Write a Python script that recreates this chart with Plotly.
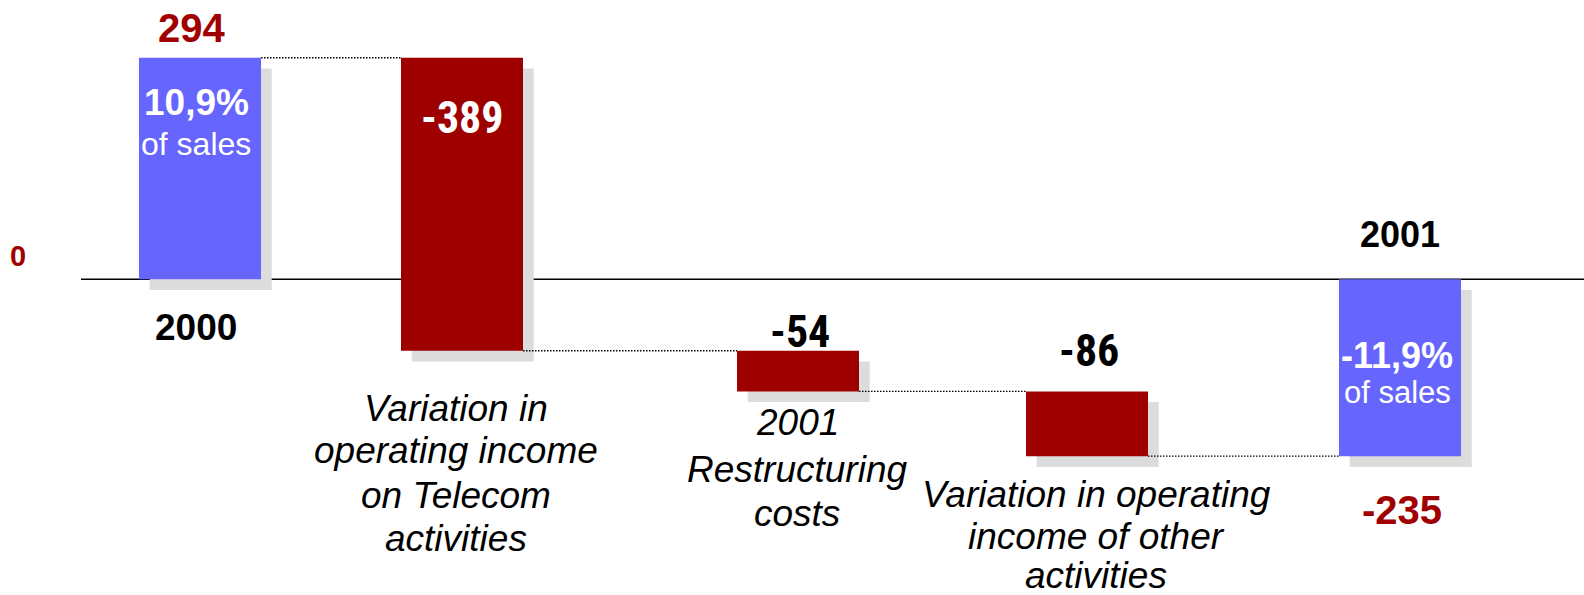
import plotly.graph_objects as go

# ---- data -------------------------------------------------------------
steps = ["2000",
         "Variation in operating income on Telecom activities",
         "2001 Restructuring costs",
         "Variation in operating income of other activities",
         "2001"]
values = [294, -389, -54, -86, -235]
kinds = ["total", "delta", "delta", "delta", "total"]
pct_of_sales = ["10,9%", None, None, None, "-11,9%"]
step_lines = [
    None,
    ["Variation in", "operating income", "on Telecom", "activities"],
    ["2001", "Restructuring", "costs"],
    ["Variation in operating", "income of other", "activities"],
    None,
]

# ---- layout constants -------------------------------------------------
W, H = 1584, 595
slot_x = [2.00, 4.62, 7.98, 10.87, 14.00]     # bar centres (x units = 100 px)
bar_w = 1.22
y_range = [-419.3, 370.7]
px_per_unit = H / (y_range[1] - y_range[0])
shadow_dx = 0.107
shadow_dy = 10.7 / px_per_unit

BLUE = "#6666FF"
RED = "#9E0000"
LABEL_RED = "#A00000"
SHADOW = "#DCDCDC"
SANS = "Liberation Sans, Arial, sans-serif"
NARROW = ("Noto Sans ExtraCondensed, Noto Sans Condensed, Roboto Condensed, "
          "Open Sans Condensed, Liberation Sans Narrow, DejaVu Sans Condensed, sans-serif")

# ---- waterfall geometry from the values --------------------------------
bases, levels = [], []
running = 0
for v, k in zip(values, kinds):
    if k == "total":
        bases.append(0)
        running = v
    else:
        bases.append(running)
        running += v
    levels.append(running)
tops = [max(b, b + v) for b, v in zip(bases, values)]
bottoms = [min(b, b + v) for b, v in zip(bases, values)]
colors = [BLUE if k == "total" else RED for k in kinds]

fig = go.Figure()

# drop shadows
fig.add_trace(go.Bar(
    x=[x + shadow_dx for x in slot_x], y=values,
    base=[b - shadow_dy for b in bases], width=bar_w,
    marker=dict(color=SHADOW, line=dict(width=0)),
    hoverinfo="skip", showlegend=False))

# bars
fig.add_trace(go.Bar(
    x=slot_x, y=values, base=bases, width=bar_w,
    marker=dict(color=colors, line=dict(width=0)),
    customdata=steps, hovertemplate="%{customdata}: %{y}<extra></extra>",
    showlegend=False))

# dotted connectors between consecutive bars
for i in range(len(values) - 1):
    fig.add_trace(go.Scatter(
        x=[slot_x[i] + bar_w / 2, slot_x[i + 1] - bar_w / 2],
        y=[levels[i], levels[i]], mode="lines",
        line=dict(color="black", width=1.3, dash="1.5px,1.5px"),
        hoverinfo="skip", showlegend=False))

# zero line
fig.add_shape(type="line", xref="x", yref="y", x0=0.81, x1=W / 100, y0=0, y1=0,
              line=dict(color="black", width=1.5), layer="below")

ann = []


def label(text, x, y, size, color, family=SANS, bold=False, italic=False,
          xshift=0, yshift=0, xref="x"):
    t = f"<b>{text}</b>" if bold else text
    if italic:
        t = f"<i>{t}</i>"
    ann.append(dict(text=t, x=x, y=y, xref=xref, yref="y", xanchor="center",
                    yanchor="middle", xshift=xshift, yshift=yshift,
                    showarrow=False, font=dict(family=family, size=size, color=color)))


# first total: 2000
label(str(values[0]), slot_x[0], tops[0], 40, LABEL_RED, bold=True, xshift=-9, yshift=30)
label(pct_of_sales[0], slot_x[0], tops[0], 37, "white", bold=True, xshift=-4, yshift=-45)
label("of sales", slot_x[0], tops[0], 32, "white", xshift=-4, yshift=-86)
label(steps[0], slot_x[0], 0, 37, "black", bold=True, xshift=-4, yshift=-48)

# deltas
label(str(values[1]), slot_x[1], tops[1], 44, "white", family=NARROW, bold=True, yshift=-60)
label(str(values[2]), slot_x[2], tops[2], 44, "black", family=NARROW, bold=True, xshift=2, yshift=19)
label(str(values[3]), slot_x[3], tops[3], 44, "black", family=NARROW, bold=True, xshift=2, yshift=40)

# last total: 2001
label(steps[4], slot_x[4], 0, 36, "black", bold=True, yshift=45)
label(pct_of_sales[4], slot_x[4], 0, 36, "white", bold=True, xshift=-3, yshift=-76)
label("of sales", slot_x[4], 0, 31, "white", xshift=-3, yshift=-113)
label(str(values[4]), slot_x[4], bottoms[4], 40, LABEL_RED, bold=True, xshift=2, yshift=-54)

# zero tick
label("0", 0.18, 0, 29, LABEL_RED, bold=True, yshift=23)

# step captions below the change bars (cap-centre pixel rows)
caption_rows = {1: [408, 450, 495, 538], 2: [422, 469, 513], 3: [494, 536, 575]}
caption_dx = {1: -6.5, 2: -1, 3: 9}
for i, rows in caption_rows.items():
    for line, py in zip(step_lines[i], rows):
        ann.append(dict(text=f"<i>{line}</i>", x=slot_x[i], xshift=caption_dx[i],
                        y=1 - py / H, xref="x", yref="paper", xanchor="center",
                        yanchor="middle", showarrow=False,
                        font=dict(family=SANS, size=37, color="black")))

fig.update_layout(
    width=W, height=H,
    margin=dict(l=0, r=0, t=0, b=0),
    paper_bgcolor="white", plot_bgcolor="white",
    barmode="overlay",
    xaxis=dict(range=[0, W / 100], visible=False, fixedrange=True),
    yaxis=dict(range=y_range, visible=False, fixedrange=True),
    annotations=ann,
    showlegend=False,
)

fig.write_html("out.html")
